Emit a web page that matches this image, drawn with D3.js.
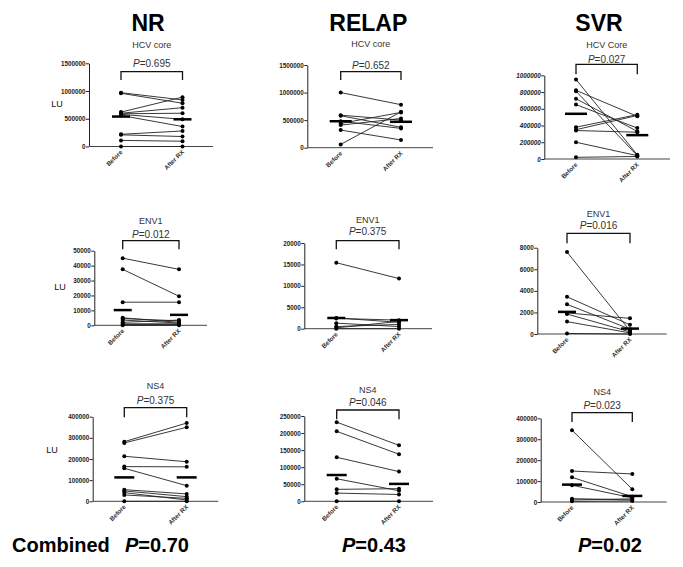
<!DOCTYPE html>
<html>
<head>
<meta charset="utf-8">
<script src="https://cdn.jsdelivr.net/npm/d3@7"></script>
<style>
html,body{margin:0;padding:0;background:#fff;}
svg{display:block;font-family:"Liberation Sans",Arial,sans-serif;}
</style>
</head>
<body>
<svg id="chart" width="683" height="567"></svg>
<script>
// ---------------- DATA ----------------
const categories = ["Before", "After RX"];
const groups = ["NR", "RELAP", "SVR"];
const subtitles = ["HCV core", "HCV core", "HCV Core", "ENV1", "ENV1", "ENV1", "NS4", "NS4", "NS4"];
const pValues = ["0.695", "0.652", "0.027", "0.012", "0.375", "0.016", "0.375", "0.046", "0.023"];
const combinedP = ["0.70", "0.43", "0.02"];

// paired values (index i of Before links to index i of After)
const nrCoreBefore = [970000, 960000, 620000, 600000, 590000, 580000, 560000, 220000, 210000, 110000, 0];
const nrCoreAfter  = [840000, 780000, 890000, 700000, 600000, 490000, 360000, 280000, 180000, 95000, 0];
const relapCoreBefore = [1000000, 590000, 580000, 480000, 440000, 410000, 320000, 60000];
const relapCoreAfter  = [780000, 500000, 370000, 350000, 640000, 530000, 140000, 650000];
const svrCoreBefore = [950000, 820000, 810000, 720000, 650000, 380000, 350000, 340000, 200000, 20000];
const svrCoreAfter  = [50000, 510000, 40000, 330000, 370000, 530000, 520000, 320000, 40000, 30000];

const nrEnvBefore = [45000, 37500, 15500, 5000, 4500, 3500, 2000, 1000, 500, 0];
const nrEnvAfter  = [37500, 19500, 15500, 2000, 3000, 1500, 3500, 1000, 500, 0];
const relapEnvBefore = [15400, 2500, 2400, 1300, 500, 200, 0];
const relapEnvAfter  = [11700, 1500, 2000, 500, 1000, 1700, 0];
const svrEnvBefore = [7600, 3450, 2750, 1950, 1850, 1150, 50];
const svrEnvAfter  = [300, 850, 450, 1450, 200, 100, 0];

const nrNs4Before = [282000, 276000, 213000, 164000, 156000, 55000, 49000, 41000, 30000, 0];
const nrNs4After  = [370000, 350000, 187000, 163000, 74000, 35000, 22000, 6000, 14000, 0];
const relapNs4Before = [232000, 205000, 129000, 66000, 35000, 24000, 0];
const relapNs4After  = [164000, 138000, 87000, 31000, 37000, 20000, 0];
const svrNs4Before = [343000, 148000, 118000, 80000, 16000, 10000, 3000];
const svrNs4After  = [61000, 134000, 25000, 20000, 10000, 15000, 5000];

const meansBefore = [540000, 480000, 540000, 10200, 2500, 2050, 113000, 77000, 83000];
const meansAfter  = [490000, 470000, 285000, 7000, 2000, 500, 113000, 51000, 29000];

const coreTicks = [0, 500000, 1000000, 1500000];
const svrCoreTicks = [0, 200000, 400000, 600000, 800000, 1000000];
const nrEnvTicks = [0, 10000, 20000, 30000, 40000, 50000];
const relapEnvTicks = [0, 5000, 10000, 15000, 20000];
const svrEnvTicks = [0, 2000, 4000, 6000, 8000];
const ns4Ticks = [0, 100000, 200000, 300000, 400000];
const relapNs4Ticks = [0, 50000, 100000, 150000, 200000, 250000];

const befores = [nrCoreBefore, relapCoreBefore, svrCoreBefore, nrEnvBefore, relapEnvBefore, svrEnvBefore, nrNs4Before, relapNs4Before, svrNs4Before];
const afters  = [nrCoreAfter, relapCoreAfter, svrCoreAfter, nrEnvAfter, relapEnvAfter, svrEnvAfter, nrNs4After, relapNs4After, svrNs4After];
const tickSets = [coreTicks, coreTicks, svrCoreTicks, nrEnvTicks, relapEnvTicks, svrEnvTicks, ns4Ticks, relapNs4Ticks, ns4Ticks];

// ---------------- LAYOUT ----------------
// ax: y-axis x, y0: baseline px, yt: px of top tick, bx/axr: category x, xe: x-axis end,
// bt/bb: bracket top/bottom, pc: P text centre, sc: subtitle centre
const layout = [
  {ax:89,   y0:146.5, yt:63.3,  bx:121,   axr:182.5, xe:213,   bt:71.7,  bb:80,    pc:63.3,  sc:45,    mw:18, italic:false},
  {ax:307.3,y0:147.7, yt:65,    bx:340.7, axr:401,   xe:433,   bt:71.7,  bb:80,    pc:65,    sc:44,    mw:22, italic:false},
  {ax:544.3,y0:159,   yt:75.3,  bx:576,   axr:637.3, xe:670,   bt:64.3,  bb:74.3,  pc:59.3,  sc:44.3,  mw:22, italic:true},
  {ax:94.3, y0:325.3, yt:250.7, bx:122.7, axr:179,   xe:207,   bt:240.7, bb:249.3, pc:234,   sc:220.7, mw:18, italic:false},
  {ax:304.3,y0:328.7, yt:243,   bx:336.3, axr:399,   xe:432,   bt:240.7, bb:249.3, pc:231.7, sc:220,   mw:18, italic:false},
  {ax:537.3,y0:334,   yt:247.7, bx:567,   axr:630,   xe:666.7, bt:233.3, bb:243.3, pc:225.7, sc:213.3, mw:18, italic:false},
  {ax:92.7, y0:501.3, yt:416.7, bx:124.3, axr:186.7, xe:218.3, bt:407.7, bb:417.3, pc:400,   sc:385.3, mw:20, italic:false},
  {ax:304.3,y0:501.3, yt:416,   bx:336.7, axr:399,   xe:433,   bt:410,   bb:419.3, pc:402.3, sc:390,   mw:20, italic:false},
  {ax:540.7,y0:502,   yt:418.3, bx:572,   axr:632.3, xe:666.7, bt:412.7, bb:422,   pc:405.3, sc:391.7, mw:20, italic:false}
];
const titleX = [148, 368.3, 599];
const luPos = [[57,104],[60,287],[52,450]];
const combinedX = [[12,125],[null,342],[null,578]];

// ---------------- DRAW ----------------
const svg = d3.select("#chart");

groups.forEach((g, i) => {
  svg.append("text").attr("x", titleX[i]).attr("y", 31)
    .attr("text-anchor", "middle").attr("font-size", 23).attr("font-weight", "bold")
    .attr("fill", "#000").text(g);
});

luPos.forEach(([x, y]) => {
  svg.append("text").attr("x", x).attr("y", y + 3).attr("text-anchor", "middle")
    .attr("font-size", 9).attr("fill", "#111").text("LU");
});

befores.forEach((bef, k) => {
  const L = layout[k];
  const aft = afters[k];
  const ticks = tickSets[k];
  const y = d3.scaleLinear().domain([0, d3.max(ticks)]).range([L.y0, L.yt]);
  const x = d3.scalePoint().domain(categories).range([L.bx, L.axr]);
  const gp = svg.append("g");

  // y axis
  const axis = d3.axisLeft(y).tickValues(ticks).tickSize(3).tickSizeOuter(0).tickFormat(d3.format("d"));
  const ga = gp.append("g").attr("transform", `translate(${L.ax},0)`).call(axis);
  ga.select(".domain").attr("stroke", "#222").attr("stroke-width", 1);
  ga.selectAll(".tick line").attr("stroke", "#222");
  ga.selectAll(".tick text").attr("font-size", 6.3).attr("font-weight", "bold")
    .attr("font-family", "'Liberation Sans',Arial,sans-serif").attr("fill", "#222")
    .attr("x", -3.5).attr("font-style", L.italic ? "italic" : "normal");

  // x axis line
  gp.append("line").attr("x1", L.ax).attr("x2", L.xe).attr("y1", L.y0).attr("y2", L.y0)
    .attr("stroke", "#444").attr("stroke-width", 1);

  // x labels rotated
  categories.forEach(c => {
    gp.append("text").attr("transform", `translate(${x(c) + 2},${L.y0 + 6}) rotate(-45)`)
      .attr("text-anchor", "end").attr("font-size", 6.3).attr("font-weight", "bold")
      .attr("fill", "#333").text(c);
  });

  // subtitle
  gp.append("text").attr("x", (L.bx + L.axr) / 2).attr("y", L.sc + 3.3).attr("text-anchor", "middle")
    .attr("font-size", 9).attr("fill", "#333").text(subtitles[k]);

  // P label
  const pt = gp.append("text").attr("x", (L.bx + L.axr) / 2).attr("y", L.pc + 3.5)
    .attr("text-anchor", "middle").attr("font-size", 10).attr("fill", "#333");
  pt.append("tspan").attr("font-style", "italic").text("P");
  pt.append("tspan").text("=" + pValues[k]);

  // bracket
  gp.append("path")
    .attr("d", `M${x(categories[0])},${L.bb}V${L.bt}H${x(categories[1])}V${L.bb}`)
    .attr("fill", "none").attr("stroke", "#111").attr("stroke-width", 1.3);

  // connecting lines
  const pairs = bef.map((v, i) => ({b: v, a: aft[i]}));
  gp.selectAll(".pl").data(pairs).enter().append("line")
    .attr("x1", x(categories[0])).attr("x2", x(categories[1]))
    .attr("y1", d => y(d.b)).attr("y2", d => y(d.a))
    .attr("stroke", "#222").attr("stroke-width", 0.9);

  // points
  [[bef, categories[0]], [aft, categories[1]]].forEach(([arr, c]) => {
    gp.selectAll(null).data(arr).enter().append("circle")
      .attr("cx", x(c)).attr("cy", d => y(d)).attr("r", 2).attr("fill", "#000");
  });

  // mean bars
  [[meansBefore[k], categories[0]], [meansAfter[k], categories[1]]].forEach(([m, c]) => {
    gp.append("line").attr("x1", x(c) - L.mw / 2).attr("x2", x(c) + L.mw / 2)
      .attr("y1", y(m)).attr("y2", y(m)).attr("stroke", "#000").attr("stroke-width", 2.5);
  });
});

// combined labels
combinedP.forEach((p, i) => {
  const [cx, px] = combinedX[i];
  if (cx !== null) {
    svg.append("text").attr("x", cx).attr("y", 552).attr("font-size", 20).attr("font-weight", "bold")
      .attr("fill", "#000").text("Combined");
  }
  const t = svg.append("text").attr("x", px).attr("y", 552).attr("font-size", 20).attr("font-weight", "bold").attr("fill", "#000");
  t.append("tspan").attr("font-style", "italic").text("P");
  t.append("tspan").text("=" + p);
});
</script>
</body>
</html>
